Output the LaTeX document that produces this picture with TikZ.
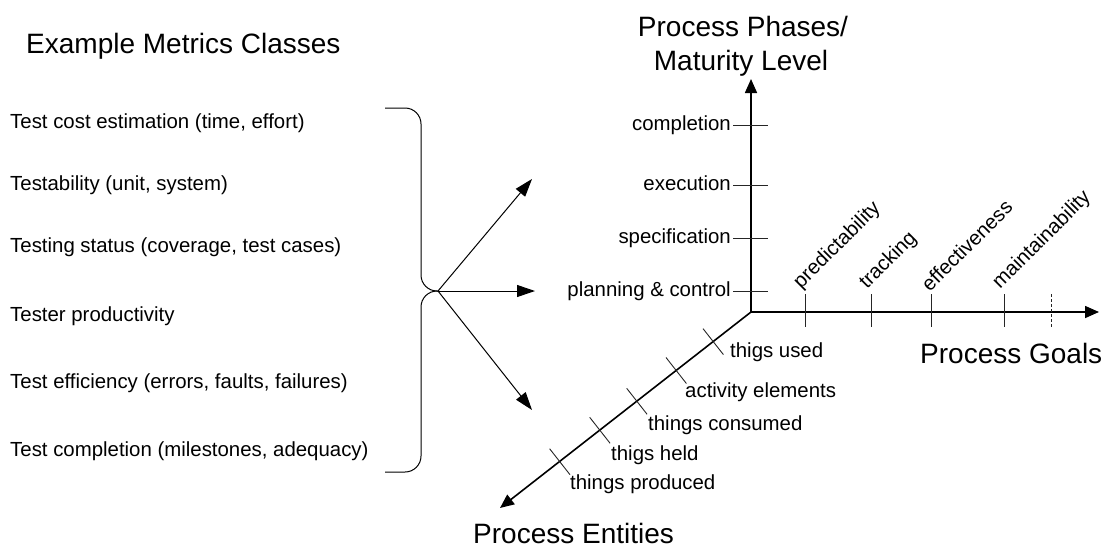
\documentclass[tikz,border=0pt]{standalone}
\usepackage{fontspec}
\setmainfont{Liberation Sans}
\usetikzlibrary{arrows.meta}
\begin{document}
\begin{tikzpicture}[x=1pt,y=-1pt,
  bigtext/.style={font=\fontsize{28}{34}\selectfont, inner sep=0pt},
  smalltext/.style={font=\fontsize{20.4}{24}\selectfont, inner sep=0pt},
  axisline/.style={line width=1.6pt, -{Triangle[length=14pt,width=12pt]}},
  fanline/.style={line width=1pt, -{Triangle[length=18pt,width=12pt]}},
  tickline/.style={line width=0.9pt, black!85},
  bracket/.style={line width=1pt, rounded corners=16pt}]
\useasboundingbox (0,0) rectangle (1108,557);

% metrics classes
\node[bigtext, anchor=base west] (title) at (26,53) {Example Metrics Classes};
\node[smalltext, anchor=base west] (m1) at (10,128) {Test cost estimation (time, effort)};
\node[smalltext, anchor=base west] (m2) at (10,190) {Testability (unit, system)};
\node[smalltext, anchor=base west] (m3) at (10,252) {Testing status (coverage, test cases)};
\node[smalltext, anchor=base west] (m4) at (10,321) {Tester productivity};
\node[smalltext, anchor=base west] (m5) at (10,388) {Test efficiency (errors, faults, failures)};
\node[smalltext, anchor=base west] (m6) at (10,456) {Test completion (milestones, adequacy)};

% curly bracket and fan of arrows
\coordinate (tip) at (438,291);
\draw[bracket] (385,108) -- (421,108) -- (421,291) -- (tip);
\draw[bracket] (tip) -- (421,291) -- (421,472) -- (385,472);
\coordinate (f1) at (532,179);
\coordinate (f2) at (535,291);
\coordinate (f3) at (532,410);
\draw[fanline] (tip) -- (f1);
\draw[fanline] (tip) -- (f2);
\draw[fanline] (tip) -- (f3);

% axes
\coordinate (O) at (751,312);
\coordinate (Vt) at (751,79);
\coordinate (Ht) at (1099,312);
\coordinate (Dt) at (500,508);
\draw[axisline] (O) -- (Vt);
\draw[axisline] (O) -- (Ht);
\draw[axisline] (O) -- (Dt);

% axis titles
\node[bigtext, anchor=base] (phases) at (743,36) {Process Phases/};
\node[bigtext, anchor=base] (maturity) at (741,70) {Maturity Level};
\node[bigtext, anchor=base west] (goals) at (920,363) {Process Goals};
\node[bigtext, anchor=base west] (entities) at (473,543) {Process Entities};

% process phases
\node[smalltext, anchor=base east] (p1) at (731,130.5) {completion};
\node[smalltext, anchor=base east] (p2) at (731,190.5) {execution};
\node[smalltext, anchor=base east] (p3) at (731,243.5) {specification};
\node[smalltext, anchor=base east] (p4) at (731,296.5) {planning \& control};
\foreach \n/\y in {1/125,2/185,3/238,4/291}{
  \coordinate (p\n a) at (733,\y);
  \coordinate (p\n b) at (768,\y);
  \draw[tickline] (p\n a) -- (p\n b);
}

% process goals
\foreach \n/\x in {1/805,2/871,3/931,4/1004}{
  \coordinate (g\n a) at (\x,294);
  \coordinate (g\n b) at (\x,327);
  \draw[tickline] (g\n a) -- (g\n b);
}
\coordinate (g5a) at (1051,294);
\coordinate (g5b) at (1051,327);
\draw[tickline, dashed, dash pattern=on 3pt off 2pt] (g5a) -- (g5b);
\node[smalltext, rotate=45, anchor=south west] (q1) at (804,293) {predictability};
\node[smalltext, rotate=45, anchor=south west] (q2) at (870,293) {tracking};
\node[smalltext, rotate=45, anchor=south west] (q3) at (930,293) {effectiveness};
\node[smalltext, rotate=45, anchor=south west] (q4) at (1003,293) {maintainability};

% process entities
\coordinate (e1a) at (703,328.6);  \coordinate (e1b) at (723.4,354.6);
\coordinate (e2a) at (666,357.5);  \coordinate (e2b) at (686.4,383.5);
\coordinate (e3a) at (626.7,388.3); \coordinate (e3b) at (647.1,414.3);
\coordinate (e4a) at (589.7,417.3); \coordinate (e4b) at (610.1,443.3);
\coordinate (e5a) at (549.6,448.7); \coordinate (e5b) at (570,474.7);
\foreach \n in {1,...,5}{\draw[tickline] (e\n a) -- (e\n b);}
\node[smalltext, anchor=base west] (r1) at (730,357) {thigs used};
\node[smalltext, anchor=base west] (r2) at (685,397) {activity elements};
\node[smalltext, anchor=base west] (r3) at (648,430) {things consumed};
\node[smalltext, anchor=base west] (r4) at (611,460) {thigs held};
\node[smalltext, anchor=base west] (r5) at (570,489) {things produced};
\end{tikzpicture}
\end{document}
